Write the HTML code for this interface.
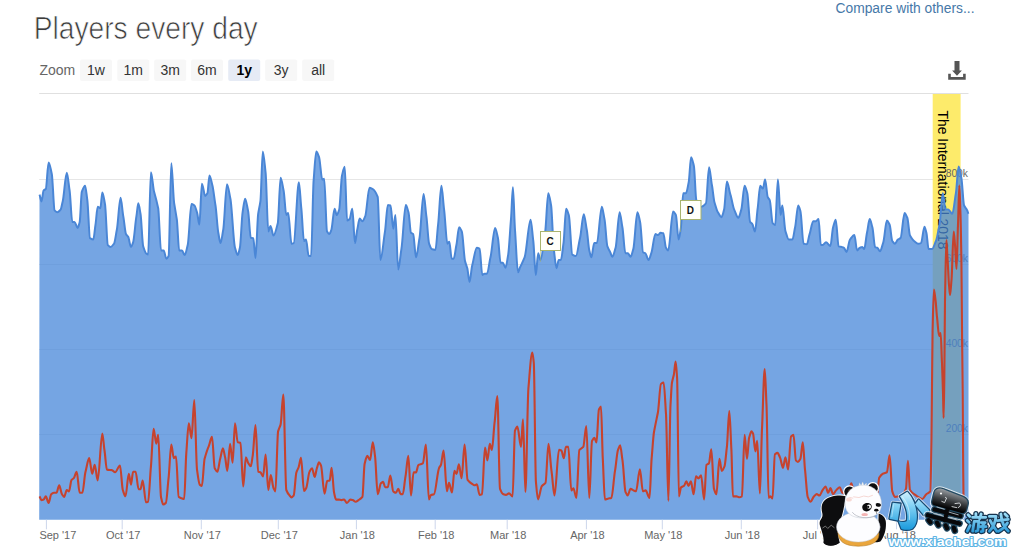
<!DOCTYPE html>
<html><head><meta charset="utf-8"><title>Players every day</title>
<style>
html,body{margin:0;padding:0;background:#fff;}
body{width:1011px;height:550px;overflow:hidden;font-family:"Liberation Sans", sans-serif;}
svg{display:block;}
svg text{font-family:"Liberation Sans", sans-serif;}
</style></head><body>
<svg width="1011" height="550" viewBox="0 0 1011 550">
<rect width="1011" height="550" fill="#fff"/>
<!-- header -->
<text x="33.7" y="38.9" font-size="31" fill="#3d3d3d" stroke="#fff" stroke-width="0.7" paint-order="fill stroke" textLength="224" lengthAdjust="spacingAndGlyphs">Players every day</text>
<text x="835.5" y="12.8" font-size="14" fill="#4678a8" textLength="139" lengthAdjust="spacingAndGlyphs">Compare with others...</text>
<text x="39.5" y="74.5" font-size="14" fill="#666">Zoom</text>
<rect x="80" y="59.5" width="32" height="21.5" rx="2" ry="2" fill="#f7f7f7"/><text x="96" y="75" text-anchor="middle" font-size="14" font-weight="normal" fill="#333">1w</text><rect x="117.3" y="59.5" width="32" height="21.5" rx="2" ry="2" fill="#f7f7f7"/><text x="133.3" y="75" text-anchor="middle" font-size="14" font-weight="normal" fill="#333">1m</text><rect x="154.2" y="59.5" width="32" height="21.5" rx="2" ry="2" fill="#f7f7f7"/><text x="170.2" y="75" text-anchor="middle" font-size="14" font-weight="normal" fill="#333">3m</text><rect x="191" y="59.5" width="32" height="21.5" rx="2" ry="2" fill="#f7f7f7"/><text x="207" y="75" text-anchor="middle" font-size="14" font-weight="normal" fill="#333">6m</text><rect x="228.2" y="59.5" width="32" height="21.5" rx="2" ry="2" fill="#e6ebf5"/><text x="244.2" y="75" text-anchor="middle" font-size="14" font-weight="bold" fill="#000">1y</text><rect x="265.2" y="59.5" width="32" height="21.5" rx="2" ry="2" fill="#f7f7f7"/><text x="281.2" y="75" text-anchor="middle" font-size="14" font-weight="normal" fill="#333">3y</text><rect x="302.2" y="59.5" width="32" height="21.5" rx="2" ry="2" fill="#f7f7f7"/><text x="318.2" y="75" text-anchor="middle" font-size="14" font-weight="normal" fill="#333">all</text>
<!-- download icon -->
<g fill="#555">
<path d="M954.5,61 h5 v9.5 h2.4 L957,75.8 L952.1,70.5 h2.4 Z"/>
<path d="M948.2,73.8 h2.6 v3.3 h12.3 v-3.3 h2.6 v5.9 h-17.5 Z"/>
</g>
<!-- plot -->
<path d="M39.2,93.5 H968.5" stroke="#e0e0e0" stroke-width="1"/>
<path d="M39.2,179.5 H968.5" stroke="#e6e6e6" stroke-width="1"/><path d="M39.2,264.5 H968.5" stroke="#e6e6e6" stroke-width="1"/><path d="M39.2,349.5 H968.5" stroke="#e6e6e6" stroke-width="1"/><path d="M39.2,434.5 H968.5" stroke="#e6e6e6" stroke-width="1"/>
<rect x="932.7" y="94" width="27.9" height="425.79999999999995" fill="#fdeb6b"/>
<text transform="translate(938.1,110.5) rotate(90)" font-size="14.5" fill="#000" textLength="139" lengthAdjust="spacingAndGlyphs">The International 2018</text>
<text x="968" y="176.7" text-anchor="end" font-size="11" fill="#666" textLength="22.3" lengthAdjust="spacingAndGlyphs">800k</text><text x="968" y="261.7" text-anchor="end" font-size="11" fill="#666" textLength="22.3" lengthAdjust="spacingAndGlyphs">600k</text><text x="968" y="346.7" text-anchor="end" font-size="11" fill="#666" textLength="22.3" lengthAdjust="spacingAndGlyphs">400k</text><text x="968" y="431.7" text-anchor="end" font-size="11" fill="#666" textLength="22.3" lengthAdjust="spacingAndGlyphs">200k</text>
<path d="M39.5,194.6 C40.2,196.3 40.8,201.4 41.5,201.4 C42.2,201.4 42.9,191.1 43.6,190.5 C44.3,189.8 45.1,189.7 45.8,189.0 C46.7,188.1 47.7,162.4 48.6,162.4 C49.7,162.4 50.7,169.4 51.8,174.0 C52.7,178.0 53.7,209.5 54.6,210.4 C55.5,211.3 56.4,212.3 57.3,212.3 C58.4,212.3 59.5,210.8 60.6,209.6 C61.3,208.9 62.0,204.0 62.7,201.4 C64.1,196.4 65.4,172.7 66.8,172.7 C67.7,172.7 68.7,184.7 69.6,190.5 C70.5,196.1 71.4,221.9 72.3,221.9 C73.0,221.9 73.8,221.9 74.5,221.9 C75.6,221.9 76.6,227.9 77.7,227.9 C78.4,227.9 79.0,224.4 79.7,221.9 C80.4,219.3 81.1,193.6 81.8,191.8 C82.9,189.0 84.0,185.8 85.1,185.8 C85.8,185.8 86.6,195.2 87.3,200.0 C88.2,205.9 89.1,237.6 90.0,238.2 C91.1,238.9 92.2,239.6 93.3,239.6 C94.0,239.6 94.8,228.7 95.5,224.6 C96.2,220.5 97.0,206.8 97.7,206.8 C98.6,206.8 99.5,208.2 100.4,208.2 C101.0,208.2 101.7,192.4 102.3,192.4 C103.2,192.4 104.1,199.6 105.0,204.1 C105.9,208.8 106.9,244.0 107.8,245.0 C108.7,245.9 109.6,247.0 110.5,247.0 C111.7,247.0 112.8,245.1 114.0,243.7 C114.9,242.6 115.9,234.3 116.8,230.0 C118.1,224.2 119.3,197.8 120.6,197.8 C121.5,197.8 122.4,211.9 123.3,216.4 C124.2,220.9 125.1,232.7 126.0,234.1 C126.7,235.2 127.5,235.9 128.2,236.9 C129.1,238.2 130.1,247.0 131.0,247.0 C131.7,247.0 132.4,244.1 133.1,242.3 C134.2,239.5 135.3,222.4 136.4,216.4 C137.0,212.9 137.7,203.3 138.3,203.3 C139.0,203.3 139.8,210.0 140.5,213.7 C141.4,218.2 142.3,243.7 143.2,246.4 C144.1,249.2 145.1,252.5 146.0,253.2 C146.7,253.7 147.4,254.6 148.1,254.6 C149.0,254.6 150.0,172.2 150.9,172.2 C152.0,172.2 153.0,187.9 154.1,191.8 C155.5,196.8 156.8,201.5 158.2,208.2 C159.1,212.8 160.1,250.5 161.0,250.5 C161.9,250.5 162.8,250.5 163.7,250.5 C164.6,250.5 165.5,258.7 166.4,258.7 C167.1,258.7 167.9,257.3 168.6,256.0 C169.5,254.4 170.4,163.2 171.3,163.2 C172.2,163.2 173.2,196.9 174.1,202.8 C175.0,208.5 175.9,213.5 176.8,219.1 C177.6,224.1 178.4,250.5 179.2,250.5 C180.1,250.5 181.1,250.5 182.0,250.5 C182.9,250.5 183.8,255.1 184.7,255.1 C185.7,255.1 186.7,248.8 187.7,245.0 C189.0,240.2 190.2,204.1 191.5,204.1 C192.5,204.1 193.5,204.9 194.5,205.5 C195.3,206.0 196.2,210.1 197.0,212.3 C197.8,214.4 198.6,224.6 199.4,224.6 C200.2,224.6 201.1,183.7 201.9,183.7 C203.0,183.7 204.1,195.9 205.2,195.9 C205.9,195.9 206.7,194.4 207.4,193.2 C208.1,192.1 208.8,175.5 209.5,175.5 C210.4,175.5 211.4,181.9 212.3,185.0 C213.4,188.5 214.4,199.3 215.5,205.5 C216.4,210.9 217.4,228.4 218.3,232.8 C219.0,236.2 219.8,243.1 220.5,243.1 C221.4,243.1 222.3,234.6 223.2,230.0 C224.5,223.6 225.7,184.2 227.0,184.2 C228.1,184.2 229.3,193.6 230.4,198.7 C231.9,205.6 233.5,243.1 235.0,247.8 C235.9,250.6 236.8,255.1 237.7,255.1 C238.4,255.1 239.2,250.7 239.9,247.8 C240.8,244.3 241.7,217.5 242.6,212.3 C243.4,207.5 244.3,198.7 245.1,198.7 C246.1,198.7 247.1,206.6 248.1,211.0 C249.0,214.9 249.9,237.4 250.8,237.7 C251.6,237.9 252.5,238.0 253.3,238.2 C254.0,238.4 254.8,257.9 255.5,257.9 C256.4,257.9 257.3,219.2 258.2,213.7 C258.9,209.2 259.7,206.2 260.4,201.4 C261.2,196.2 262.0,151.5 262.8,151.5 C263.7,151.5 264.7,164.8 265.6,172.7 C266.5,180.3 267.4,231.4 268.3,231.4 C269.0,231.4 269.8,226.0 270.5,226.0 C271.5,226.0 272.5,235.5 273.5,235.5 C274.9,235.5 276.4,228.7 277.8,223.2 C278.7,219.6 279.7,177.7 280.6,177.7 C281.6,177.7 282.6,186.1 283.6,190.5 C284.5,194.4 285.4,215.0 286.3,215.0 C286.9,215.0 287.6,213.1 288.2,213.1 C289.3,213.1 290.4,243.7 291.5,243.7 C292.2,243.7 293.0,243.4 293.7,243.1 C295.4,242.5 297.2,182.3 298.9,182.3 C299.7,182.3 300.5,201.4 301.3,208.2 C302.2,215.9 303.1,241.0 304.0,241.0 C304.7,241.0 305.3,239.6 306.0,239.6 C306.9,239.6 307.8,256.0 308.7,256.0 C309.5,256.0 310.3,256.0 311.1,256.0 C311.9,256.0 312.8,191.0 313.6,180.9 C314.5,170.0 315.4,151.5 316.3,151.5 C317.2,151.5 318.1,154.8 319.0,156.9 C320.1,159.4 321.2,179.6 322.3,179.6 C322.9,179.6 323.6,178.7 324.2,178.7 C325.1,178.7 326.1,229.9 327.0,231.4 C327.8,232.6 328.6,234.1 329.4,234.1 C330.0,234.1 330.7,231.5 331.3,230.0 C332.4,227.4 333.5,208.8 334.6,208.8 C335.3,208.8 336.1,215.0 336.8,215.0 C337.6,215.0 338.4,211.8 339.2,209.6 C340.1,207.0 341.1,179.1 342.0,175.5 C342.9,172.0 343.8,166.7 344.7,166.7 C345.5,166.7 346.3,220.5 347.1,220.5 C347.9,220.5 348.8,219.7 349.6,219.1 C350.5,218.4 351.4,208.8 352.3,208.8 C353.2,208.8 354.1,243.1 355.0,243.1 C355.7,243.1 356.5,232.8 357.2,230.0 C358.0,226.8 358.9,218.6 359.7,218.6 C360.6,218.6 361.5,221.3 362.4,221.3 C363.3,221.3 364.3,218.3 365.2,216.4 C366.6,213.5 368.1,187.7 369.5,187.7 C370.6,187.7 371.7,188.6 372.8,189.1 C374.4,189.9 376.1,192.9 377.7,196.8 C378.6,199.0 379.5,260.0 380.4,260.0 C381.9,260.0 383.5,240.2 385.0,231.4 C385.9,226.1 386.9,204.9 387.8,204.9 C388.7,204.9 389.6,205.2 390.5,205.5 C391.4,205.8 392.4,228.7 393.3,228.7 C394.0,228.7 394.7,215.0 395.4,215.0 C396.3,215.0 397.3,269.6 398.2,269.6 C399.3,269.6 400.3,255.3 401.4,249.1 C402.9,240.6 404.3,204.9 405.8,204.9 C406.7,204.9 407.6,209.5 408.5,212.3 C409.3,214.9 410.2,232.1 411.0,232.8 C411.7,233.4 412.5,233.5 413.2,234.1 C414.1,234.8 415.1,257.3 416.0,257.3 C417.2,257.3 418.3,244.5 419.5,238.2 C420.9,230.8 422.2,194.0 423.6,194.0 C424.5,194.0 425.5,210.1 426.4,216.4 C427.3,222.4 428.2,241.4 429.1,243.7 C430.0,246.0 430.9,248.8 431.8,249.1 C433.0,249.5 434.2,250.0 435.4,250.0 C436.3,250.0 437.2,231.6 438.1,224.6 C439.2,216.0 440.3,185.8 441.4,185.8 C442.3,185.8 443.2,203.2 444.1,209.6 C445.2,217.4 446.3,243.7 447.4,243.7 C448.0,243.7 448.7,241.8 449.3,241.8 C450.1,241.8 450.9,258.7 451.7,258.7 C452.4,258.7 453.0,258.7 453.7,258.7 C454.6,258.7 455.5,248.9 456.4,245.0 C457.3,241.1 458.2,227.3 459.1,227.3 C460.0,227.3 460.9,229.7 461.8,231.4 C462.9,233.5 464.0,257.7 465.1,261.4 C465.8,263.9 466.6,265.9 467.3,268.2 C468.0,270.5 468.8,281.9 469.5,281.9 C470.4,281.9 471.3,268.7 472.2,265.5 C473.7,260.0 475.3,247.8 476.8,247.8 C477.7,247.8 478.7,248.2 479.6,248.6 C480.5,249.0 481.4,275.0 482.3,275.0 C483.0,275.0 483.8,273.7 484.5,273.7 C485.3,273.7 486.2,273.7 487.0,273.7 C488.2,273.7 489.3,262.0 490.5,257.3 C492.0,251.1 493.6,227.9 495.1,227.9 C496.0,227.9 497.0,234.1 497.9,237.7 C498.8,241.1 499.7,262.8 500.6,262.8 C501.3,262.8 502.1,262.8 502.8,262.8 C503.7,262.8 504.6,267.7 505.5,267.7 C506.4,267.7 507.3,259.3 508.2,254.6 C509.1,249.7 510.1,229.3 511.0,219.1 C511.6,212.2 512.3,187.2 512.9,187.2 C513.6,187.2 514.3,221.2 515.0,230.0 C516.0,242.6 517.0,272.3 518.0,272.3 C518.7,272.3 519.5,268.2 520.2,266.9 C521.7,264.3 523.1,260.8 524.6,257.3 C526.6,252.6 528.6,219.7 530.6,219.7 C531.5,219.7 532.4,234.2 533.3,241.0 C534.1,247.3 535.0,275.0 535.8,275.0 C536.6,275.0 537.4,253.2 538.2,253.2 C538.9,253.2 539.7,260.0 540.4,260.0 C542.0,260.0 543.5,242.3 545.1,232.8 C546.2,226.3 547.2,193.2 548.3,193.2 C549.2,193.2 550.2,200.6 551.1,205.5 C552.0,210.2 552.9,242.5 553.8,249.1 C554.7,255.7 555.6,268.2 556.5,268.2 C557.2,268.2 558.0,260.0 558.7,260.0 C559.4,260.0 560.2,260.0 560.9,260.0 C561.8,260.0 562.7,248.3 563.6,242.3 C564.4,236.8 565.3,208.8 566.1,208.8 C567.0,208.8 567.9,212.5 568.8,215.0 C570.0,218.2 571.1,253.9 572.3,254.6 C573.5,255.3 574.7,256.0 575.9,256.0 C577.3,256.0 578.6,243.5 580.0,238.2 C581.3,233.3 582.5,214.2 583.8,214.2 C584.8,214.2 585.8,225.2 586.8,230.0 C587.6,234.0 588.5,247.6 589.3,250.5 C590.0,252.9 590.7,257.3 591.4,257.3 C592.3,257.3 593.3,243.1 594.2,243.1 C595.1,243.1 596.0,243.1 596.9,243.1 C598.5,243.1 600.2,206.8 601.8,206.8 C602.7,206.8 603.6,215.0 604.5,219.1 C605.5,223.5 606.4,244.0 607.4,246.4 C608.3,248.6 609.2,250.5 610.1,251.9 C610.8,253.1 611.6,256.8 612.3,256.8 C613.4,256.8 614.5,251.2 615.6,247.8 C616.9,243.7 618.3,212.3 619.6,212.3 C620.5,212.3 621.5,222.7 622.4,227.3 C623.4,232.2 624.4,253.2 625.4,253.2 C626.2,253.2 627.0,253.2 627.8,253.2 C628.7,253.2 629.7,256.8 630.6,256.8 C631.5,256.8 632.4,251.9 633.3,249.1 C634.7,244.8 636.0,212.3 637.4,212.3 C638.3,212.3 639.2,218.4 640.1,221.9 C641.1,225.8 642.1,251.9 643.1,252.4 C643.8,252.8 644.6,252.9 645.3,253.2 C646.4,253.7 647.5,260.0 648.6,260.0 C649.5,260.0 650.4,255.4 651.3,253.2 C652.7,249.9 654.0,234.1 655.4,234.1 C656.3,234.1 657.2,235.0 658.1,235.0 C658.9,235.0 659.8,232.8 660.6,232.8 C661.5,232.8 662.4,233.1 663.3,233.3 C664.2,233.5 665.1,246.5 666.0,247.8 C666.7,248.9 667.5,250.5 668.2,250.5 C669.8,250.5 671.5,211.5 673.1,211.5 C674.0,211.5 675.0,213.5 675.9,215.0 C676.8,216.5 677.7,239.6 678.6,239.6 C679.3,239.6 680.1,232.8 680.8,228.7 C681.6,224.3 682.4,193.2 683.2,193.2 C684.1,193.2 685.1,193.2 686.0,193.2 C686.9,193.2 687.8,186.3 688.7,182.3 C689.5,178.8 690.3,157.2 691.1,157.2 C692.0,157.2 693.0,162.3 693.9,165.9 C694.7,169.0 695.5,198.3 696.3,200.0 C697.9,203.4 699.4,206.8 701.0,206.8 C702.6,206.8 704.3,205.1 705.9,203.3 C707.0,202.2 708.0,167.3 709.1,167.3 C710.0,167.3 711.0,180.5 711.9,185.0 C712.8,189.4 713.7,200.1 714.6,202.8 C715.7,206.2 716.8,210.7 717.9,212.3 C719.1,214.0 720.2,217.2 721.4,217.2 C722.3,217.2 723.2,212.6 724.1,209.6 C725.0,206.5 726.0,181.5 726.9,181.5 C728.1,181.5 729.2,191.2 730.4,194.6 C731.7,198.2 732.9,207.1 734.2,209.6 C735.6,212.3 736.9,217.8 738.3,217.8 C739.3,217.8 740.3,212.6 741.3,209.6 C742.4,206.4 743.5,185.8 744.6,185.8 C745.5,185.8 746.4,190.3 747.3,193.2 C748.2,196.2 749.2,220.7 750.1,221.9 C750.8,222.8 751.6,223.2 752.3,224.0 C753.2,224.9 754.1,231.4 755.0,231.4 C755.9,231.4 756.8,214.1 757.7,208.2 C758.5,202.7 759.4,185.8 760.2,185.8 C761.1,185.8 762.0,188.6 762.9,188.6 C763.6,188.6 764.4,179.6 765.1,179.6 C766.0,179.6 766.9,195.8 767.8,197.3 C768.4,198.4 769.1,198.9 769.7,200.0 C770.7,201.7 771.7,222.2 772.7,223.2 C773.5,224.0 774.4,225.1 775.2,225.1 C776.1,225.1 777.0,179.6 777.9,179.6 C778.8,179.6 779.7,215.0 780.6,215.0 C781.2,215.0 781.7,205.5 782.3,205.5 C783.4,205.5 784.4,228.3 785.5,231.4 C786.6,234.5 787.7,239.6 788.8,239.6 C790.0,239.6 791.2,239.6 792.4,239.6 C793.3,239.6 794.2,231.0 795.1,227.3 C796.1,223.0 797.2,205.5 798.2,205.5 C798.9,205.5 799.7,208.9 800.4,211.0 C801.5,214.1 802.5,243.5 803.6,243.7 C804.7,243.9 805.8,244.2 806.9,244.2 C807.8,244.2 808.7,236.6 809.6,234.1 C810.8,230.8 812.0,221.3 813.2,221.3 C814.1,221.3 815.0,221.3 815.9,221.3 C816.8,221.3 817.7,219.1 818.6,219.1 C819.3,219.1 820.1,245.0 820.8,245.0 C821.4,245.0 822.1,245.0 822.7,245.0 C823.8,245.0 824.9,242.3 826.0,242.3 C827.5,242.3 828.9,245.9 830.4,245.9 C831.3,245.9 832.2,230.0 833.1,227.3 C834.0,224.6 834.9,219.7 835.8,219.7 C836.7,219.7 837.7,246.1 838.6,246.4 C839.7,246.7 840.7,246.8 841.8,247.0 C842.5,247.1 843.3,247.5 844.0,247.8 C844.8,248.2 845.7,251.9 846.5,251.9 C847.7,251.9 848.8,241.0 850.0,239.6 C851.5,237.8 852.9,235.0 854.4,235.0 C855.3,235.0 856.2,250.5 857.1,250.5 C858.0,250.5 858.9,248.1 859.8,247.8 C860.6,247.5 861.5,247.0 862.3,247.0 C862.9,247.0 863.6,249.1 864.2,249.1 C865.1,249.1 866.1,236.6 867.0,232.8 C867.9,229.1 868.8,219.1 869.7,219.1 C870.6,219.1 871.5,224.4 872.4,227.3 C873.3,230.2 874.2,246.9 875.1,247.2 C875.8,247.5 876.6,247.6 877.3,247.8 C878.2,248.1 879.1,251.3 880.0,251.3 C881.1,251.3 882.2,245.4 883.3,242.3 C884.5,238.9 885.7,220.5 886.9,220.5 C887.8,220.5 888.7,223.0 889.6,224.6 C890.5,226.2 891.4,239.8 892.3,241.0 C893.2,242.2 894.1,243.7 895.0,243.7 C895.9,243.7 896.9,240.1 897.8,239.6 C898.7,239.1 899.6,238.8 900.5,238.2 C901.9,237.3 903.2,213.1 904.6,213.1 C905.5,213.1 906.4,215.9 907.3,217.8 C908.2,219.7 909.1,233.9 910.0,235.5 C911.4,237.9 912.7,240.1 914.1,241.0 C915.5,241.9 916.8,243.7 918.2,243.7 C919.1,243.7 920.1,243.4 921.0,243.1 C922.2,242.8 923.3,226.8 924.5,226.8 C925.1,226.8 925.8,230.7 926.4,232.8 C927.1,235.2 927.9,249.1 928.6,249.1 C929.7,249.1 930.8,249.1 931.9,249.1 C933.3,249.1 934.6,243.9 936.0,241.0 C937.2,238.5 938.3,230.1 939.5,224.6 C940.6,219.4 941.7,193.2 942.8,193.2 C943.7,193.2 944.6,209.6 945.5,209.6 C946.4,209.6 947.3,209.6 948.2,209.6 C949.6,209.6 950.9,213.7 952.3,213.7 C953.5,213.7 954.7,199.8 955.9,193.2 C956.8,188.3 957.7,166.5 958.6,166.5 C959.5,166.5 960.5,174.1 961.4,178.2 C962.3,182.2 963.2,203.7 964.1,205.5 C965.0,207.3 965.9,208.3 966.8,209.6 C967.4,210.4 967.9,212.7 968.5,213.7 L968.5,519.8 L39.2,519.8 Z" fill="#4787da" fill-opacity="0.75"/>
<path d="M39.5,194.6 C40.2,196.3 40.8,201.4 41.5,201.4 C42.2,201.4 42.9,191.1 43.6,190.5 C44.3,189.8 45.1,189.7 45.8,189.0 C46.7,188.1 47.7,162.4 48.6,162.4 C49.7,162.4 50.7,169.4 51.8,174.0 C52.7,178.0 53.7,209.5 54.6,210.4 C55.5,211.3 56.4,212.3 57.3,212.3 C58.4,212.3 59.5,210.8 60.6,209.6 C61.3,208.9 62.0,204.0 62.7,201.4 C64.1,196.4 65.4,172.7 66.8,172.7 C67.7,172.7 68.7,184.7 69.6,190.5 C70.5,196.1 71.4,221.9 72.3,221.9 C73.0,221.9 73.8,221.9 74.5,221.9 C75.6,221.9 76.6,227.9 77.7,227.9 C78.4,227.9 79.0,224.4 79.7,221.9 C80.4,219.3 81.1,193.6 81.8,191.8 C82.9,189.0 84.0,185.8 85.1,185.8 C85.8,185.8 86.6,195.2 87.3,200.0 C88.2,205.9 89.1,237.6 90.0,238.2 C91.1,238.9 92.2,239.6 93.3,239.6 C94.0,239.6 94.8,228.7 95.5,224.6 C96.2,220.5 97.0,206.8 97.7,206.8 C98.6,206.8 99.5,208.2 100.4,208.2 C101.0,208.2 101.7,192.4 102.3,192.4 C103.2,192.4 104.1,199.6 105.0,204.1 C105.9,208.8 106.9,244.0 107.8,245.0 C108.7,245.9 109.6,247.0 110.5,247.0 C111.7,247.0 112.8,245.1 114.0,243.7 C114.9,242.6 115.9,234.3 116.8,230.0 C118.1,224.2 119.3,197.8 120.6,197.8 C121.5,197.8 122.4,211.9 123.3,216.4 C124.2,220.9 125.1,232.7 126.0,234.1 C126.7,235.2 127.5,235.9 128.2,236.9 C129.1,238.2 130.1,247.0 131.0,247.0 C131.7,247.0 132.4,244.1 133.1,242.3 C134.2,239.5 135.3,222.4 136.4,216.4 C137.0,212.9 137.7,203.3 138.3,203.3 C139.0,203.3 139.8,210.0 140.5,213.7 C141.4,218.2 142.3,243.7 143.2,246.4 C144.1,249.2 145.1,252.5 146.0,253.2 C146.7,253.7 147.4,254.6 148.1,254.6 C149.0,254.6 150.0,172.2 150.9,172.2 C152.0,172.2 153.0,187.9 154.1,191.8 C155.5,196.8 156.8,201.5 158.2,208.2 C159.1,212.8 160.1,250.5 161.0,250.5 C161.9,250.5 162.8,250.5 163.7,250.5 C164.6,250.5 165.5,258.7 166.4,258.7 C167.1,258.7 167.9,257.3 168.6,256.0 C169.5,254.4 170.4,163.2 171.3,163.2 C172.2,163.2 173.2,196.9 174.1,202.8 C175.0,208.5 175.9,213.5 176.8,219.1 C177.6,224.1 178.4,250.5 179.2,250.5 C180.1,250.5 181.1,250.5 182.0,250.5 C182.9,250.5 183.8,255.1 184.7,255.1 C185.7,255.1 186.7,248.8 187.7,245.0 C189.0,240.2 190.2,204.1 191.5,204.1 C192.5,204.1 193.5,204.9 194.5,205.5 C195.3,206.0 196.2,210.1 197.0,212.3 C197.8,214.4 198.6,224.6 199.4,224.6 C200.2,224.6 201.1,183.7 201.9,183.7 C203.0,183.7 204.1,195.9 205.2,195.9 C205.9,195.9 206.7,194.4 207.4,193.2 C208.1,192.1 208.8,175.5 209.5,175.5 C210.4,175.5 211.4,181.9 212.3,185.0 C213.4,188.5 214.4,199.3 215.5,205.5 C216.4,210.9 217.4,228.4 218.3,232.8 C219.0,236.2 219.8,243.1 220.5,243.1 C221.4,243.1 222.3,234.6 223.2,230.0 C224.5,223.6 225.7,184.2 227.0,184.2 C228.1,184.2 229.3,193.6 230.4,198.7 C231.9,205.6 233.5,243.1 235.0,247.8 C235.9,250.6 236.8,255.1 237.7,255.1 C238.4,255.1 239.2,250.7 239.9,247.8 C240.8,244.3 241.7,217.5 242.6,212.3 C243.4,207.5 244.3,198.7 245.1,198.7 C246.1,198.7 247.1,206.6 248.1,211.0 C249.0,214.9 249.9,237.4 250.8,237.7 C251.6,237.9 252.5,238.0 253.3,238.2 C254.0,238.4 254.8,257.9 255.5,257.9 C256.4,257.9 257.3,219.2 258.2,213.7 C258.9,209.2 259.7,206.2 260.4,201.4 C261.2,196.2 262.0,151.5 262.8,151.5 C263.7,151.5 264.7,164.8 265.6,172.7 C266.5,180.3 267.4,231.4 268.3,231.4 C269.0,231.4 269.8,226.0 270.5,226.0 C271.5,226.0 272.5,235.5 273.5,235.5 C274.9,235.5 276.4,228.7 277.8,223.2 C278.7,219.6 279.7,177.7 280.6,177.7 C281.6,177.7 282.6,186.1 283.6,190.5 C284.5,194.4 285.4,215.0 286.3,215.0 C286.9,215.0 287.6,213.1 288.2,213.1 C289.3,213.1 290.4,243.7 291.5,243.7 C292.2,243.7 293.0,243.4 293.7,243.1 C295.4,242.5 297.2,182.3 298.9,182.3 C299.7,182.3 300.5,201.4 301.3,208.2 C302.2,215.9 303.1,241.0 304.0,241.0 C304.7,241.0 305.3,239.6 306.0,239.6 C306.9,239.6 307.8,256.0 308.7,256.0 C309.5,256.0 310.3,256.0 311.1,256.0 C311.9,256.0 312.8,191.0 313.6,180.9 C314.5,170.0 315.4,151.5 316.3,151.5 C317.2,151.5 318.1,154.8 319.0,156.9 C320.1,159.4 321.2,179.6 322.3,179.6 C322.9,179.6 323.6,178.7 324.2,178.7 C325.1,178.7 326.1,229.9 327.0,231.4 C327.8,232.6 328.6,234.1 329.4,234.1 C330.0,234.1 330.7,231.5 331.3,230.0 C332.4,227.4 333.5,208.8 334.6,208.8 C335.3,208.8 336.1,215.0 336.8,215.0 C337.6,215.0 338.4,211.8 339.2,209.6 C340.1,207.0 341.1,179.1 342.0,175.5 C342.9,172.0 343.8,166.7 344.7,166.7 C345.5,166.7 346.3,220.5 347.1,220.5 C347.9,220.5 348.8,219.7 349.6,219.1 C350.5,218.4 351.4,208.8 352.3,208.8 C353.2,208.8 354.1,243.1 355.0,243.1 C355.7,243.1 356.5,232.8 357.2,230.0 C358.0,226.8 358.9,218.6 359.7,218.6 C360.6,218.6 361.5,221.3 362.4,221.3 C363.3,221.3 364.3,218.3 365.2,216.4 C366.6,213.5 368.1,187.7 369.5,187.7 C370.6,187.7 371.7,188.6 372.8,189.1 C374.4,189.9 376.1,192.9 377.7,196.8 C378.6,199.0 379.5,260.0 380.4,260.0 C381.9,260.0 383.5,240.2 385.0,231.4 C385.9,226.1 386.9,204.9 387.8,204.9 C388.7,204.9 389.6,205.2 390.5,205.5 C391.4,205.8 392.4,228.7 393.3,228.7 C394.0,228.7 394.7,215.0 395.4,215.0 C396.3,215.0 397.3,269.6 398.2,269.6 C399.3,269.6 400.3,255.3 401.4,249.1 C402.9,240.6 404.3,204.9 405.8,204.9 C406.7,204.9 407.6,209.5 408.5,212.3 C409.3,214.9 410.2,232.1 411.0,232.8 C411.7,233.4 412.5,233.5 413.2,234.1 C414.1,234.8 415.1,257.3 416.0,257.3 C417.2,257.3 418.3,244.5 419.5,238.2 C420.9,230.8 422.2,194.0 423.6,194.0 C424.5,194.0 425.5,210.1 426.4,216.4 C427.3,222.4 428.2,241.4 429.1,243.7 C430.0,246.0 430.9,248.8 431.8,249.1 C433.0,249.5 434.2,250.0 435.4,250.0 C436.3,250.0 437.2,231.6 438.1,224.6 C439.2,216.0 440.3,185.8 441.4,185.8 C442.3,185.8 443.2,203.2 444.1,209.6 C445.2,217.4 446.3,243.7 447.4,243.7 C448.0,243.7 448.7,241.8 449.3,241.8 C450.1,241.8 450.9,258.7 451.7,258.7 C452.4,258.7 453.0,258.7 453.7,258.7 C454.6,258.7 455.5,248.9 456.4,245.0 C457.3,241.1 458.2,227.3 459.1,227.3 C460.0,227.3 460.9,229.7 461.8,231.4 C462.9,233.5 464.0,257.7 465.1,261.4 C465.8,263.9 466.6,265.9 467.3,268.2 C468.0,270.5 468.8,281.9 469.5,281.9 C470.4,281.9 471.3,268.7 472.2,265.5 C473.7,260.0 475.3,247.8 476.8,247.8 C477.7,247.8 478.7,248.2 479.6,248.6 C480.5,249.0 481.4,275.0 482.3,275.0 C483.0,275.0 483.8,273.7 484.5,273.7 C485.3,273.7 486.2,273.7 487.0,273.7 C488.2,273.7 489.3,262.0 490.5,257.3 C492.0,251.1 493.6,227.9 495.1,227.9 C496.0,227.9 497.0,234.1 497.9,237.7 C498.8,241.1 499.7,262.8 500.6,262.8 C501.3,262.8 502.1,262.8 502.8,262.8 C503.7,262.8 504.6,267.7 505.5,267.7 C506.4,267.7 507.3,259.3 508.2,254.6 C509.1,249.7 510.1,229.3 511.0,219.1 C511.6,212.2 512.3,187.2 512.9,187.2 C513.6,187.2 514.3,221.2 515.0,230.0 C516.0,242.6 517.0,272.3 518.0,272.3 C518.7,272.3 519.5,268.2 520.2,266.9 C521.7,264.3 523.1,260.8 524.6,257.3 C526.6,252.6 528.6,219.7 530.6,219.7 C531.5,219.7 532.4,234.2 533.3,241.0 C534.1,247.3 535.0,275.0 535.8,275.0 C536.6,275.0 537.4,253.2 538.2,253.2 C538.9,253.2 539.7,260.0 540.4,260.0 C542.0,260.0 543.5,242.3 545.1,232.8 C546.2,226.3 547.2,193.2 548.3,193.2 C549.2,193.2 550.2,200.6 551.1,205.5 C552.0,210.2 552.9,242.5 553.8,249.1 C554.7,255.7 555.6,268.2 556.5,268.2 C557.2,268.2 558.0,260.0 558.7,260.0 C559.4,260.0 560.2,260.0 560.9,260.0 C561.8,260.0 562.7,248.3 563.6,242.3 C564.4,236.8 565.3,208.8 566.1,208.8 C567.0,208.8 567.9,212.5 568.8,215.0 C570.0,218.2 571.1,253.9 572.3,254.6 C573.5,255.3 574.7,256.0 575.9,256.0 C577.3,256.0 578.6,243.5 580.0,238.2 C581.3,233.3 582.5,214.2 583.8,214.2 C584.8,214.2 585.8,225.2 586.8,230.0 C587.6,234.0 588.5,247.6 589.3,250.5 C590.0,252.9 590.7,257.3 591.4,257.3 C592.3,257.3 593.3,243.1 594.2,243.1 C595.1,243.1 596.0,243.1 596.9,243.1 C598.5,243.1 600.2,206.8 601.8,206.8 C602.7,206.8 603.6,215.0 604.5,219.1 C605.5,223.5 606.4,244.0 607.4,246.4 C608.3,248.6 609.2,250.5 610.1,251.9 C610.8,253.1 611.6,256.8 612.3,256.8 C613.4,256.8 614.5,251.2 615.6,247.8 C616.9,243.7 618.3,212.3 619.6,212.3 C620.5,212.3 621.5,222.7 622.4,227.3 C623.4,232.2 624.4,253.2 625.4,253.2 C626.2,253.2 627.0,253.2 627.8,253.2 C628.7,253.2 629.7,256.8 630.6,256.8 C631.5,256.8 632.4,251.9 633.3,249.1 C634.7,244.8 636.0,212.3 637.4,212.3 C638.3,212.3 639.2,218.4 640.1,221.9 C641.1,225.8 642.1,251.9 643.1,252.4 C643.8,252.8 644.6,252.9 645.3,253.2 C646.4,253.7 647.5,260.0 648.6,260.0 C649.5,260.0 650.4,255.4 651.3,253.2 C652.7,249.9 654.0,234.1 655.4,234.1 C656.3,234.1 657.2,235.0 658.1,235.0 C658.9,235.0 659.8,232.8 660.6,232.8 C661.5,232.8 662.4,233.1 663.3,233.3 C664.2,233.5 665.1,246.5 666.0,247.8 C666.7,248.9 667.5,250.5 668.2,250.5 C669.8,250.5 671.5,211.5 673.1,211.5 C674.0,211.5 675.0,213.5 675.9,215.0 C676.8,216.5 677.7,239.6 678.6,239.6 C679.3,239.6 680.1,232.8 680.8,228.7 C681.6,224.3 682.4,193.2 683.2,193.2 C684.1,193.2 685.1,193.2 686.0,193.2 C686.9,193.2 687.8,186.3 688.7,182.3 C689.5,178.8 690.3,157.2 691.1,157.2 C692.0,157.2 693.0,162.3 693.9,165.9 C694.7,169.0 695.5,198.3 696.3,200.0 C697.9,203.4 699.4,206.8 701.0,206.8 C702.6,206.8 704.3,205.1 705.9,203.3 C707.0,202.2 708.0,167.3 709.1,167.3 C710.0,167.3 711.0,180.5 711.9,185.0 C712.8,189.4 713.7,200.1 714.6,202.8 C715.7,206.2 716.8,210.7 717.9,212.3 C719.1,214.0 720.2,217.2 721.4,217.2 C722.3,217.2 723.2,212.6 724.1,209.6 C725.0,206.5 726.0,181.5 726.9,181.5 C728.1,181.5 729.2,191.2 730.4,194.6 C731.7,198.2 732.9,207.1 734.2,209.6 C735.6,212.3 736.9,217.8 738.3,217.8 C739.3,217.8 740.3,212.6 741.3,209.6 C742.4,206.4 743.5,185.8 744.6,185.8 C745.5,185.8 746.4,190.3 747.3,193.2 C748.2,196.2 749.2,220.7 750.1,221.9 C750.8,222.8 751.6,223.2 752.3,224.0 C753.2,224.9 754.1,231.4 755.0,231.4 C755.9,231.4 756.8,214.1 757.7,208.2 C758.5,202.7 759.4,185.8 760.2,185.8 C761.1,185.8 762.0,188.6 762.9,188.6 C763.6,188.6 764.4,179.6 765.1,179.6 C766.0,179.6 766.9,195.8 767.8,197.3 C768.4,198.4 769.1,198.9 769.7,200.0 C770.7,201.7 771.7,222.2 772.7,223.2 C773.5,224.0 774.4,225.1 775.2,225.1 C776.1,225.1 777.0,179.6 777.9,179.6 C778.8,179.6 779.7,215.0 780.6,215.0 C781.2,215.0 781.7,205.5 782.3,205.5 C783.4,205.5 784.4,228.3 785.5,231.4 C786.6,234.5 787.7,239.6 788.8,239.6 C790.0,239.6 791.2,239.6 792.4,239.6 C793.3,239.6 794.2,231.0 795.1,227.3 C796.1,223.0 797.2,205.5 798.2,205.5 C798.9,205.5 799.7,208.9 800.4,211.0 C801.5,214.1 802.5,243.5 803.6,243.7 C804.7,243.9 805.8,244.2 806.9,244.2 C807.8,244.2 808.7,236.6 809.6,234.1 C810.8,230.8 812.0,221.3 813.2,221.3 C814.1,221.3 815.0,221.3 815.9,221.3 C816.8,221.3 817.7,219.1 818.6,219.1 C819.3,219.1 820.1,245.0 820.8,245.0 C821.4,245.0 822.1,245.0 822.7,245.0 C823.8,245.0 824.9,242.3 826.0,242.3 C827.5,242.3 828.9,245.9 830.4,245.9 C831.3,245.9 832.2,230.0 833.1,227.3 C834.0,224.6 834.9,219.7 835.8,219.7 C836.7,219.7 837.7,246.1 838.6,246.4 C839.7,246.7 840.7,246.8 841.8,247.0 C842.5,247.1 843.3,247.5 844.0,247.8 C844.8,248.2 845.7,251.9 846.5,251.9 C847.7,251.9 848.8,241.0 850.0,239.6 C851.5,237.8 852.9,235.0 854.4,235.0 C855.3,235.0 856.2,250.5 857.1,250.5 C858.0,250.5 858.9,248.1 859.8,247.8 C860.6,247.5 861.5,247.0 862.3,247.0 C862.9,247.0 863.6,249.1 864.2,249.1 C865.1,249.1 866.1,236.6 867.0,232.8 C867.9,229.1 868.8,219.1 869.7,219.1 C870.6,219.1 871.5,224.4 872.4,227.3 C873.3,230.2 874.2,246.9 875.1,247.2 C875.8,247.5 876.6,247.6 877.3,247.8 C878.2,248.1 879.1,251.3 880.0,251.3 C881.1,251.3 882.2,245.4 883.3,242.3 C884.5,238.9 885.7,220.5 886.9,220.5 C887.8,220.5 888.7,223.0 889.6,224.6 C890.5,226.2 891.4,239.8 892.3,241.0 C893.2,242.2 894.1,243.7 895.0,243.7 C895.9,243.7 896.9,240.1 897.8,239.6 C898.7,239.1 899.6,238.8 900.5,238.2 C901.9,237.3 903.2,213.1 904.6,213.1 C905.5,213.1 906.4,215.9 907.3,217.8 C908.2,219.7 909.1,233.9 910.0,235.5 C911.4,237.9 912.7,240.1 914.1,241.0 C915.5,241.9 916.8,243.7 918.2,243.7 C919.1,243.7 920.1,243.4 921.0,243.1 C922.2,242.8 923.3,226.8 924.5,226.8 C925.1,226.8 925.8,230.7 926.4,232.8 C927.1,235.2 927.9,249.1 928.6,249.1 C929.7,249.1 930.8,249.1 931.9,249.1 C933.3,249.1 934.6,243.9 936.0,241.0 C937.2,238.5 938.3,230.1 939.5,224.6 C940.6,219.4 941.7,193.2 942.8,193.2 C943.7,193.2 944.6,209.6 945.5,209.6 C946.4,209.6 947.3,209.6 948.2,209.6 C949.6,209.6 950.9,213.7 952.3,213.7 C953.5,213.7 954.7,199.8 955.9,193.2 C956.8,188.3 957.7,166.5 958.6,166.5 C959.5,166.5 960.5,174.1 961.4,178.2 C962.3,182.2 963.2,203.7 964.1,205.5 C965.0,207.3 965.9,208.3 966.8,209.6 C967.4,210.4 967.9,212.7 968.5,213.7" fill="none" stroke="#4a86d6" stroke-width="2" stroke-linejoin="round" stroke-linecap="butt"/>
<path d="M39.5,496.3 C40.2,497.2 40.8,500.1 41.5,500.1 C42.2,500.1 42.9,499.8 43.6,499.6 C44.3,499.4 45.1,496.3 45.8,496.3 C46.7,496.3 47.7,502.9 48.6,502.9 C49.5,502.9 50.4,494.7 51.3,494.1 C52.2,493.5 53.1,492.8 54.0,492.8 C54.8,492.8 55.7,492.8 56.5,492.8 C57.4,492.8 58.3,485.4 59.2,485.4 C60.1,485.4 61.0,492.9 61.9,494.1 C62.6,495.1 63.4,496.9 64.1,496.9 C65.0,496.9 65.9,490.0 66.8,490.0 C67.5,490.0 68.3,491.4 69.0,491.4 C69.8,491.4 70.7,480.8 71.5,480.0 C72.2,479.3 73.0,478.9 73.7,478.3 C74.7,477.5 75.7,471.8 76.7,471.8 C77.7,471.8 78.7,492.8 79.7,492.8 C80.6,492.8 81.5,492.8 82.4,492.8 C83.4,492.8 84.4,476.0 85.4,472.3 C86.7,467.7 87.9,458.1 89.2,458.1 C90.2,458.1 91.2,473.7 92.2,473.7 C93.0,473.7 93.9,464.7 94.7,464.7 C95.7,464.7 96.7,480.5 97.7,480.5 C99.2,480.5 100.8,433.6 102.3,433.6 C103.0,433.6 103.8,446.2 104.5,450.5 C105.3,455.2 106.1,469.5 106.9,469.6 C108.6,469.9 110.2,469.9 111.9,470.1 C113.0,470.2 114.0,472.3 115.1,472.3 C116.7,472.3 118.4,465.5 120.0,465.5 C120.9,465.5 121.9,487.4 122.8,490.0 C123.7,492.5 124.6,496.3 125.5,496.3 C126.6,496.3 127.7,473.7 128.8,473.7 C129.5,473.7 130.3,484.6 131.0,484.6 C131.7,484.6 132.4,471.8 133.1,471.8 C133.9,471.8 134.8,471.8 135.6,471.8 C136.6,471.8 137.6,489.2 138.6,489.2 C139.2,489.2 139.9,489.2 140.5,489.2 C141.2,489.2 142.0,480.5 142.7,480.5 C143.8,480.5 144.9,502.3 146.0,502.3 C146.7,502.3 147.4,502.0 148.1,501.8 C149.0,501.5 150.0,476.2 150.9,466.9 C151.8,458.0 152.7,428.7 153.6,428.7 C154.5,428.7 155.4,443.7 156.3,443.7 C156.9,443.7 157.6,434.7 158.2,434.7 C159.1,434.7 160.1,492.8 161.0,496.9 C161.7,500.1 162.5,504.5 163.2,504.5 C164.1,504.5 165.0,503.7 165.9,502.9 C166.8,502.1 167.7,485.0 168.6,477.8 C169.5,470.6 170.4,444.5 171.3,444.5 C172.1,444.5 173.0,458.1 173.8,458.1 C174.5,458.1 175.3,456.5 176.0,456.5 C176.9,456.5 177.8,496.3 178.7,496.9 C179.6,497.5 180.5,498.0 181.4,498.2 C182.3,498.5 183.3,499.0 184.2,499.0 C184.9,499.0 185.6,461.4 186.3,453.2 C187.1,443.4 188.0,423.2 188.8,423.2 C189.7,423.2 190.6,438.2 191.5,438.2 C192.4,438.2 193.4,400.0 194.3,400.0 C195.2,400.0 196.1,463.4 197.0,469.6 C197.9,475.8 198.8,483.8 199.7,484.6 C200.4,485.2 201.2,486.0 201.9,486.0 C202.8,486.0 203.7,461.9 204.6,458.7 C206.0,453.8 207.3,449.4 208.7,446.4 C209.8,444.0 210.9,436.8 212.0,436.8 C212.9,436.8 213.8,466.6 214.7,468.2 C215.6,469.8 216.5,471.8 217.4,471.8 C218.3,471.8 219.3,461.7 220.2,458.7 C221.1,455.8 222.0,448.3 222.9,448.3 C223.6,448.3 224.4,454.6 225.1,457.3 C225.8,460.0 226.6,470.9 227.3,470.9 C228.2,470.9 229.2,443.7 230.1,443.7 C230.9,443.7 231.8,462.8 232.6,462.8 C233.4,462.8 234.2,423.2 235.0,423.2 C235.9,423.2 236.8,442.1 237.7,442.3 C238.6,442.5 239.6,442.6 240.5,442.8 C241.4,443.0 242.3,486.5 243.2,486.5 C244.1,486.5 245.0,457.3 245.9,457.3 C246.6,457.3 247.4,461.9 248.1,462.8 C249.0,464.0 249.9,466.3 250.8,466.3 C251.4,466.3 252.1,459.3 252.7,455.9 C253.6,450.9 254.6,425.1 255.5,425.1 C256.4,425.1 257.3,471.5 258.2,471.8 C258.9,472.0 259.7,472.1 260.4,472.3 C261.3,472.6 262.2,476.4 263.1,476.4 C263.9,476.4 264.8,454.6 265.6,454.6 C266.5,454.6 267.4,490.0 268.3,490.0 C269.1,490.0 270.0,475.0 270.8,475.0 C271.7,475.0 272.6,486.4 273.5,488.1 C274.1,489.3 274.8,491.4 275.4,491.4 C276.3,491.4 277.2,434.6 278.1,431.4 C278.9,428.4 279.8,427.3 280.6,424.6 C281.5,421.7 282.4,394.5 283.3,394.5 C284.3,394.5 285.3,487.6 286.3,490.0 C287.2,492.2 288.1,493.8 289.0,494.7 C289.8,495.5 290.7,497.4 291.5,497.4 C292.2,497.4 293.0,496.3 293.7,495.5 C294.6,494.5 295.5,474.6 296.4,472.3 C297.1,470.4 297.9,469.0 298.6,467.4 C299.4,465.7 300.2,457.9 301.0,457.9 C302.0,457.9 303.0,490.9 304.0,490.9 C304.7,490.9 305.5,489.2 306.2,488.1 C307.3,486.5 308.4,473.6 309.5,471.8 C310.3,470.4 311.2,468.2 312.0,468.2 C312.9,468.2 313.8,476.9 314.7,476.9 C315.4,476.9 316.2,470.0 316.9,468.2 C317.6,466.5 318.3,462.2 319.0,462.2 C319.7,462.2 320.3,464.2 321.0,465.5 C322.2,467.8 323.3,493.6 324.5,493.6 C325.4,493.6 326.3,481.3 327.2,481.0 C328.0,480.8 328.9,480.8 329.7,480.5 C330.3,480.3 331.0,467.7 331.6,467.7 C332.4,467.7 333.3,489.6 334.1,492.8 C334.7,495.3 335.4,499.6 336.0,499.6 C336.9,499.6 337.8,499.6 338.7,499.6 C339.6,499.6 340.5,500.1 341.4,500.1 C342.3,500.1 343.2,499.6 344.1,499.6 C345.0,499.6 346.0,502.9 346.9,502.9 C348.1,502.9 349.2,499.6 350.4,499.6 C351.2,499.6 352.1,499.9 352.9,500.1 C353.8,500.3 354.7,501.8 355.6,501.8 C356.8,501.8 358.0,500.2 359.2,499.6 C360.3,499.0 361.3,498.3 362.4,496.9 C363.1,496.0 363.9,466.9 364.6,464.1 C365.5,460.6 366.4,455.9 367.3,455.9 C368.2,455.9 369.2,460.0 370.1,460.0 C371.0,460.0 371.9,442.3 372.8,442.3 C373.5,442.3 374.3,451.2 375.0,455.9 C375.9,461.6 376.8,494.1 377.7,494.1 C378.8,494.1 379.9,484.0 381.0,483.2 C381.7,482.7 382.5,481.9 383.2,481.9 C383.8,481.9 384.5,487.3 385.1,487.3 C386.0,487.3 386.9,487.3 387.8,487.3 C388.6,487.3 389.5,475.6 390.3,475.6 C391.3,475.6 392.3,490.7 393.3,491.4 C394.2,492.0 395.1,492.8 396.0,492.8 C396.7,492.8 397.5,488.7 398.2,488.7 C399.0,488.7 399.8,494.1 400.6,494.1 C401.3,494.1 402.1,494.1 402.8,494.1 C403.7,494.1 404.6,481.1 405.5,476.4 C406.4,471.6 407.4,455.9 408.3,455.9 C409.2,455.9 410.1,495.5 411.0,495.5 C411.9,495.5 412.7,472.4 413.6,472.4 C414.4,472.4 415.2,472.4 416.0,472.4 C416.8,472.4 417.6,465.4 418.4,465.0 C419.9,464.2 421.4,464.2 422.9,463.4 C423.9,462.9 424.9,444.5 425.9,444.5 C426.9,444.5 427.9,499.4 428.9,499.4 C429.6,499.4 430.3,495.1 431.0,494.9 C432.0,494.6 433.0,494.6 434.0,494.3 C435.7,493.8 437.4,470.9 439.1,467.9 C439.7,466.9 440.3,466.0 440.9,464.9 C441.8,463.2 442.7,450.5 443.6,450.5 C444.7,450.5 445.8,491.3 446.9,491.3 C447.6,491.3 448.3,482.9 449.0,482.9 C450.0,482.9 451.0,492.5 452.0,492.5 C452.8,492.5 453.6,470.9 454.4,470.9 C455.1,470.9 455.8,473.9 456.5,473.9 C457.3,473.9 458.1,464.3 458.9,464.3 C459.8,464.3 460.7,478.3 461.6,478.3 C462.6,478.3 463.6,444.5 464.6,444.5 C465.6,444.5 466.6,478.6 467.6,479.9 C468.9,481.6 470.2,482.8 471.5,483.5 C472.5,484.0 473.5,485.3 474.5,485.3 C475.3,485.3 476.1,484.4 476.9,484.4 C477.8,484.4 478.7,494.9 479.6,494.9 C480.4,494.9 481.2,494.6 482.0,494.3 C483.0,493.9 484.0,447.5 485.0,447.5 C485.8,447.5 486.6,460.4 487.4,460.4 C488.2,460.4 489.0,443.9 489.8,443.9 C490.5,443.9 491.2,449.9 491.9,449.9 C492.8,449.9 493.7,429.1 494.6,422.4 C495.5,415.7 496.4,396.0 497.3,396.0 C498.2,396.0 499.1,486.7 500.0,488.9 C501.0,491.4 502.0,493.6 503.0,494.0 C504.0,494.4 505.0,494.9 506.0,494.9 C507.0,494.9 508.0,493.4 509.0,493.4 C510.2,493.4 511.4,496.4 512.6,496.4 C513.4,496.4 514.2,432.3 515.0,430.5 C515.8,428.7 516.6,426.6 517.4,426.6 C518.6,426.6 519.8,446.9 521.0,446.9 C521.7,446.9 522.3,419.4 523.0,419.4 C523.8,419.4 524.6,491.9 525.4,491.9 C526.4,491.9 527.4,399.7 528.4,388.5 C529.7,373.9 531.0,352.5 532.3,352.5 C532.8,352.5 533.3,358.5 533.8,363.0 C534.5,369.3 535.2,473.6 535.9,481.4 C536.6,489.2 537.3,499.4 538.0,499.4 C539.3,499.4 540.6,487.2 541.9,485.9 C543.1,484.7 544.3,484.3 545.5,482.9 C546.5,481.7 547.5,443.9 548.5,443.9 C549.5,443.9 550.5,464.5 551.5,470.9 C552.5,477.3 553.5,495.5 554.5,495.5 C556.0,495.5 557.5,449.9 559.0,449.9 C559.8,449.9 560.6,450.2 561.4,450.5 C562.2,450.8 563.0,458.3 563.8,458.3 C564.5,458.3 565.2,446.9 565.9,446.9 C566.7,446.9 567.5,446.9 568.3,446.9 C569.3,446.9 570.3,490.4 571.3,490.4 C572.0,490.4 572.7,488.3 573.4,488.3 C574.4,488.3 575.4,497.9 576.4,497.9 C577.4,497.9 578.4,451.0 579.4,449.9 C580.7,448.4 582.0,448.3 583.3,446.9 C584.3,445.8 585.3,426.0 586.3,426.0 C587.3,426.0 588.3,497.9 589.3,497.9 C590.2,497.9 591.1,442.5 592.0,440.9 C592.8,439.5 593.6,437.9 594.4,437.9 C595.1,437.9 595.8,442.4 596.5,442.4 C597.3,442.4 598.1,411.0 598.9,409.5 C599.6,408.2 600.3,406.5 601.0,406.5 C601.6,406.5 602.2,448.4 602.8,458.9 C603.5,471.1 604.2,499.4 604.9,499.4 C606.1,499.4 607.2,498.7 608.4,498.5 C609.4,498.3 610.4,498.2 611.4,497.9 C612.6,497.6 613.8,477.4 615.0,470.9 C616.0,465.5 617.0,452.3 618.0,449.9 C618.7,448.2 619.4,445.4 620.1,445.4 C620.9,445.4 621.7,455.7 622.5,460.4 C623.5,466.2 624.5,489.8 625.5,491.9 C626.2,493.4 626.9,495.5 627.6,495.5 C628.6,495.5 629.6,488.9 630.6,488.9 C631.6,488.9 632.6,490.1 633.6,490.4 C634.4,490.7 635.2,491.3 636.0,491.3 C637.3,491.3 638.6,469.4 639.9,469.4 C640.9,469.4 641.9,491.3 642.9,491.3 C643.8,491.3 644.7,490.4 645.6,490.4 C646.9,490.4 648.2,497.9 649.5,497.9 C650.2,497.9 650.9,466.3 651.6,458.9 C652.4,450.5 653.2,436.3 654.0,432.0 C655.3,425.0 656.6,419.0 657.9,412.5 C658.9,407.5 659.9,384.8 660.9,384.0 C661.8,383.3 662.7,382.5 663.6,382.5 C664.4,382.5 665.2,402.4 666.0,414.0 C666.8,425.6 667.6,500.9 668.4,500.9 C669.1,500.9 669.8,416.5 670.5,405.0 C671.0,396.8 671.5,385.0 672.0,382.5 C672.6,379.5 673.2,377.4 673.8,375.0 C674.4,372.6 675.0,361.5 675.6,361.5 C676.1,361.5 676.6,371.1 677.1,378.0 C677.7,386.3 678.3,496.4 678.9,496.4 C679.6,496.4 680.3,487.9 681.0,487.4 C682.0,486.7 683.0,486.5 684.0,485.9 C684.8,485.4 685.6,481.4 686.4,481.4 C687.1,481.4 687.8,485.9 688.5,485.9 C689.3,485.9 690.1,481.4 690.9,481.4 C691.8,481.4 692.7,494.3 693.6,494.3 C694.4,494.3 695.2,476.3 696.0,476.3 C696.8,476.3 697.6,478.4 698.4,478.4 C699.3,478.4 700.2,475.4 701.1,475.4 C702.1,475.4 703.1,499.4 704.1,499.4 C704.9,499.4 705.7,465.6 706.5,464.9 C707.3,464.2 708.1,464.1 708.9,463.4 C709.7,462.7 710.5,449.3 711.3,449.3 C712.2,449.3 713.1,486.3 714.0,488.9 C714.8,491.2 715.6,494.3 716.4,494.3 C717.4,494.3 718.4,458.9 719.4,458.9 C720.2,458.9 721.0,470.9 721.8,470.9 C722.7,470.9 723.6,468.3 724.5,466.4 C725.3,464.7 726.1,453.2 726.9,446.9 C727.7,440.6 728.5,411.0 729.3,411.0 C730.0,411.0 730.7,437.6 731.4,449.9 C731.9,458.7 732.4,496.4 732.9,496.4 C734.1,496.4 735.3,496.4 736.5,496.4 C737.5,496.4 738.5,497.3 739.5,497.3 C740.3,497.3 741.1,496.8 741.9,496.4 C742.8,495.9 743.7,434.9 744.6,434.9 C745.4,434.9 746.2,458.9 747.0,458.9 C747.7,458.9 748.4,440.2 749.1,437.9 C749.9,435.3 750.7,431.3 751.5,431.3 C752.0,431.3 752.5,432.6 753.0,433.4 C753.8,434.7 754.6,451.4 755.4,451.4 C756.0,451.4 756.6,440.9 757.2,440.9 C758.1,440.9 759.0,493.4 759.9,493.4 C760.6,493.4 761.3,442.5 762.0,428.9 C762.9,411.4 763.8,369.0 764.7,369.0 C765.3,369.0 765.9,392.7 766.5,405.0 C767.2,419.3 767.9,497.9 768.6,497.9 C769.2,497.9 769.8,496.4 770.4,496.4 C771.1,496.4 771.8,498.5 772.5,498.5 C773.3,498.5 774.1,455.1 774.9,454.4 C775.8,453.7 776.7,452.9 777.6,452.9 C778.4,452.9 779.2,456.0 780.0,457.4 C781.0,459.2 782.0,467.9 783.0,467.9 C783.8,467.9 784.6,457.4 785.4,457.4 C786.3,457.4 787.2,469.4 788.1,469.4 C789.1,469.4 790.1,437.3 791.1,436.4 C791.9,435.7 792.7,434.9 793.5,434.9 C794.3,434.9 795.1,459.6 795.9,460.4 C796.6,461.1 797.3,461.9 798.0,461.9 C798.8,461.9 799.6,460.0 800.4,458.7 C801.2,457.4 802.0,442.3 802.8,442.3 C803.5,442.3 804.3,463.5 805.0,469.6 C805.9,477.1 806.8,494.9 807.7,496.9 C808.6,499.0 809.6,501.8 810.5,501.8 C811.7,501.8 812.8,497.2 814.0,496.3 C814.9,495.6 815.8,494.1 816.7,494.1 C817.6,494.1 818.6,495.5 819.5,495.5 C820.6,495.5 821.6,491.2 822.7,490.0 C823.6,489.0 824.6,486.5 825.5,486.5 C826.4,486.5 827.3,492.8 828.2,492.8 C828.9,492.8 829.7,488.1 830.4,488.1 C831.3,488.1 832.2,494.1 833.1,494.1 C834.2,494.1 835.3,490.8 836.4,490.0 C837.5,489.2 838.6,487.3 839.7,487.3 C840.6,487.3 841.5,492.4 842.4,492.8 C843.6,493.4 844.7,494.1 845.9,494.1 C846.8,494.1 847.6,492.1 848.5,491.0 C849.5,489.8 850.4,483.2 851.4,483.2 C852.3,483.2 853.1,493.1 854.0,494.0 C855.3,495.3 856.7,497.0 858.0,497.0 C859.3,497.0 860.7,495.0 862.0,495.0 C863.3,495.0 864.7,498.0 866.0,498.0 C867.3,498.0 868.7,496.0 870.0,496.0 C871.3,496.0 872.7,497.0 874.0,497.0 C875.1,497.0 876.2,495.5 877.3,494.1 C877.9,493.3 878.6,478.8 879.2,477.8 C880.4,475.8 881.6,474.2 882.8,473.7 C884.2,473.2 885.5,473.0 886.9,472.3 C887.8,471.8 888.7,455.4 889.6,455.4 C890.5,455.4 891.4,489.0 892.3,491.4 C893.2,493.8 894.1,496.9 895.0,496.9 C896.4,496.9 897.7,496.5 899.1,496.3 C900.5,496.1 901.8,495.0 903.2,494.1 C904.1,493.5 905.1,491.2 906.0,488.7 C906.6,487.0 907.3,460.9 907.9,460.9 C908.6,460.9 909.3,488.9 910.0,490.0 C911.4,492.1 912.7,493.3 914.1,494.1 C915.5,494.9 916.8,496.3 918.2,496.9 C919.6,497.5 920.9,499.0 922.3,499.0 C923.7,499.0 925.0,495.0 926.4,494.1 C927.7,493.2 929.0,493.0 930.3,491.4 C930.7,490.9 931.1,459.7 931.5,440.0 C931.7,431.8 931.8,397.5 932.0,385.0 C932.2,370.0 932.4,337.4 932.6,330.0 C933.0,313.9 933.5,289.5 933.9,289.5 C934.4,289.5 935.0,296.7 935.5,300.0 C936.0,303.1 936.5,313.2 937.0,317.0 C937.7,322.3 938.4,336.0 939.1,336.0 C939.6,336.0 940.1,333.0 940.6,333.0 C941.1,333.0 941.5,354.2 942.0,363.0 C942.3,369.3 942.7,384.2 943.0,393.0 C943.2,398.3 943.4,418.0 943.6,418.0 C943.8,418.0 944.1,392.9 944.3,380.0 C944.5,367.1 944.8,311.5 945.0,300.0 C945.5,277.0 945.9,240.0 946.4,240.0 C946.8,240.0 947.1,253.3 947.5,258.0 C948.0,264.4 948.5,280.3 949.0,285.0 C949.3,288.2 949.7,295.0 950.0,295.0 C950.5,295.0 951.0,285.0 951.5,280.0 C952.2,272.6 953.0,231.6 953.7,231.6 C954.1,231.6 954.6,240.9 955.0,245.0 C955.5,249.7 956.0,269.0 956.5,269.0 C957.0,269.0 957.5,236.2 958.0,225.0 C958.4,215.3 958.9,185.5 959.3,185.5 C959.7,185.5 960.1,204.9 960.5,215.0 C960.8,222.5 961.1,244.1 961.4,260.0 C961.6,272.4 961.9,322.6 962.1,340.0 C962.3,354.9 962.5,376.0 962.7,393.0 C962.9,407.1 963.0,458.0 963.2,470.0 C963.4,482.0 963.5,503.6 963.7,505.0 C964.2,509.3 964.7,512.8 965.2,513.0 C966.3,513.5 967.4,513.8 968.5,514.0" fill="none" stroke="#cc3b20" stroke-opacity="0.93" stroke-width="2.1" stroke-linejoin="round" stroke-linecap="butt"/>
<path d="M540.5,262 V250.5" stroke="#a9b46e" stroke-opacity="0.5" stroke-width="1"/><rect x="540.5" y="231.5" width="20" height="19" fill="#fffffa" stroke="#a9b46e" stroke-width="1"/><text x="550.1" y="244.6" text-anchor="middle" font-size="10" font-weight="bold" fill="#111">C</text><path d="M680.5,232 V219.5" stroke="#a9b46e" stroke-opacity="0.5" stroke-width="1"/><rect x="680.5" y="200.5" width="20.5" height="19" fill="#fffffa" stroke="#a9b46e" stroke-width="1"/><text x="690.35" y="213.6" text-anchor="middle" font-size="10" font-weight="bold" fill="#111">D</text>
<path d="M46.4,519.8 V529.3" stroke="#ccd6eb" stroke-width="1"/><text x="39.4" y="539" font-size="11" fill="#666">Sep '17</text><path d="M122.2,519.8 V529.3" stroke="#ccd6eb" stroke-width="1"/><text x="123.2" y="539" text-anchor="middle" font-size="11" fill="#666">Oct '17</text><path d="M201.3,519.8 V529.3" stroke="#ccd6eb" stroke-width="1"/><text x="202.3" y="539" text-anchor="middle" font-size="11" fill="#666">Nov '17</text><path d="M278.3,519.8 V529.3" stroke="#ccd6eb" stroke-width="1"/><text x="279.3" y="539" text-anchor="middle" font-size="11" fill="#666">Dec '17</text><path d="M356.4,519.8 V529.3" stroke="#ccd6eb" stroke-width="1"/><text x="357.4" y="539" text-anchor="middle" font-size="11" fill="#666">Jan '18</text><path d="M435.2,519.8 V529.3" stroke="#ccd6eb" stroke-width="1"/><text x="436.2" y="539" text-anchor="middle" font-size="11" fill="#666">Feb '18</text><path d="M507.2,519.8 V529.3" stroke="#ccd6eb" stroke-width="1"/><text x="508.2" y="539" text-anchor="middle" font-size="11" fill="#666">Mar '18</text><path d="M586.4,519.8 V529.3" stroke="#ccd6eb" stroke-width="1"/><text x="587.4" y="539" text-anchor="middle" font-size="11" fill="#666">Apr '18</text><path d="M662.3,519.8 V529.3" stroke="#ccd6eb" stroke-width="1"/><text x="663.3" y="539" text-anchor="middle" font-size="11" fill="#666">May '18</text><path d="M741.3,519.8 V529.3" stroke="#ccd6eb" stroke-width="1"/><text x="742.3" y="539" text-anchor="middle" font-size="11" fill="#666">Jun '18</text><path d="M817.6,519.8 V529.3" stroke="#ccd6eb" stroke-width="1"/><text x="818.6" y="539" text-anchor="middle" font-size="11" fill="#666">Jul '18</text><path d="M896.5,519.8 V529.3" stroke="#ccd6eb" stroke-width="1"/><text x="897.5" y="539" text-anchor="middle" font-size="11" fill="#666">Aug '18</text>
<defs>
<linearGradient id="gb" x1="0" y1="60" x2="0" y2="400" gradientUnits="userSpaceOnUse"><stop offset="0" stop-color="#c4ecfc"/><stop offset="0.45" stop-color="#6cc9f2"/><stop offset="1" stop-color="#1f9ad9"/></linearGradient>
<linearGradient id="gk" x1="0" y1="40" x2="0" y2="230" gradientUnits="userSpaceOnUse"><stop offset="0" stop-color="#8a8f94"/><stop offset="0.55" stop-color="#2a2c2e"/><stop offset="1" stop-color="#000"/></linearGradient>
<linearGradient id="gy" x1="0" y1="90" x2="0" y2="340" gradientUnits="userSpaceOnUse"><stop offset="0" stop-color="#a6e2fa"/><stop offset="1" stop-color="#2797d6"/></linearGradient>
<linearGradient id="gb2" x1="0" y1="70" x2="0" y2="490" gradientUnits="userSpaceOnUse"><stop offset="0" stop-color="#d2f1fd"/><stop offset="0.4" stop-color="#7fd0f4"/><stop offset="1" stop-color="#1c9bdc"/></linearGradient>
<linearGradient id="gk2" x1="180" y1="50" x2="130" y2="250" gradientUnits="userSpaceOnUse"><stop offset="0" stop-color="#9a9fa4"/><stop offset="0.5" stop-color="#3a3d40"/><stop offset="0.85" stop-color="#050506"/></linearGradient>
<g id="xiaoshape">
  <path d="M165,125 L245,75 C300,130 345,230 350,330 C352,400 340,450 300,480 C260,500 200,495 180,480 L150,400 C180,410 225,410 240,395 C255,330 240,240 165,125 Z"/>
  <path d="M85,195 L170,205 L140,390 L50,370 Z"/>
  <path d="M370,160 L490,280 L425,330 L330,215 Z"/>
</g>
<path id="heibox" d="M150,62 C170,50 200,55 230,70 L410,140 C445,155 462,185 455,215 L440,275 C430,300 410,305 385,298 L120,222 C100,215 100,195 105,175 L125,95 C130,75 140,68 150,62 Z"/>
<path id="heilow" d="M125,265 L385,330 M58,322 L375,405 M262,240 L228,372 M66,372 L84,394 M150,396 L164,422 M236,424 L250,452 M318,446 L328,478"/>
</defs>
<!-- panda -->
<g transform="translate(810,470) scale(0.14539)" stroke-linejoin="round" stroke-linecap="round">
 <g stroke="#fff" stroke-width="14" fill="#fff">
  <path d="M95,215 C120,180 200,168 245,180 C238,260 215,330 195,400 C188,440 200,480 205,500 C170,528 110,528 92,500 C100,470 80,420 68,380 C58,340 92,340 85,300 C75,260 80,235 95,215 Z"/>
  <path d="M472,300 C505,310 528,335 522,385 C520,430 502,470 484,492 C440,505 430,480 470,380 Z"/>
  <circle cx="272" cy="150" r="38"/><circle cx="432" cy="125" r="36"/>
 </g>
 <path d="M95,215 C120,180 200,168 245,180 C238,260 215,330 195,400 C188,440 200,480 205,500 C170,528 110,528 92,500 C100,470 80,420 68,380 C58,340 92,340 85,300 C75,260 80,235 95,215 Z" fill="#0d0d0f"/>
 <path d="M472,300 C505,310 528,335 522,385 C520,430 502,470 484,492 C470,500 430,500 425,490 C440,470 470,440 470,380 Z" fill="#0d0d0f"/>
 <ellipse cx="145" cy="494" rx="50" ry="26" fill="#0d0d0f"/>
 <path d="M88,398 L106,386 L122,402 L146,380 L166,396" fill="none" stroke="#9a9a9a" stroke-width="5"/>
 <circle cx="272" cy="150" r="36" fill="#0d0d0f"/>
 <circle cx="432" cy="125" r="34" fill="#0d0d0f"/>
 <path d="M262,140 q12,-12 26,-2" fill="none" stroke="#7a4a2a" stroke-width="5"/>
 <!-- shorts -->
 <path d="M192,430 C230,485 420,492 474,432 C478,485 440,522 332,524 C232,522 196,490 192,430 Z" fill="#eaa63c" stroke="#b27a22" stroke-width="4"/>
 <!-- body -->
 <ellipse cx="332" cy="392" rx="150" ry="104" fill="#fdfdff" stroke="#b9c0cc" stroke-width="3"/>
 <!-- hair -->
 <path d="M335,118 L340,88 L352,108 L362,82 L372,106 L388,90 L386,120 Z" fill="#fff" stroke="#c8ccd4" stroke-width="3"/>
 <!-- head -->
 <path d="M240,235 C235,160 290,105 365,104 C440,104 492,160 492,235 C492,300 440,330 365,330 C290,330 245,300 240,235 Z" fill="#fdfdff" stroke="#b9c0cc" stroke-width="3"/>
 <path d="M255,195 q20,-12 40,-2 M300,185 q40,12 70,-6 q30,14 60,-4" fill="none" stroke="#f3c9c4" stroke-width="5"/>
 <ellipse cx="268" cy="205" rx="20" ry="12" fill="#f7d9d4"/>
 <!-- eyes -->
 <path d="M360,262 C355,235 385,220 410,230 C432,238 428,268 405,280 C385,290 364,284 360,262 Z" fill="#0d0d0f"/>
 <circle cx="406" cy="252" r="14" fill="#fff"/><circle cx="400" cy="254" r="8" fill="#0d0d0f"/>
 <path d="M452,232 C462,222 488,228 488,242 C486,254 462,256 454,248 Z" fill="#0d0d0f"/>
 <ellipse cx="456" cy="276" rx="15" ry="10" fill="#0d0d0f"/>
 <path d="M456,286 L458,300" stroke="#555" stroke-width="4" fill="none"/>
 <ellipse cx="376" cy="306" rx="22" ry="11" fill="#f4b4b4"/>
 <path d="M292,292 C320,332 400,338 452,316" fill="none" stroke="#9aa0aa" stroke-width="4"/>
</g>
<!-- xiao -->
<g transform="translate(885,485) scale(0.0909)" stroke-linejoin="round" stroke-linecap="round">
 <use href="#xiaoshape" fill="#fff" stroke="#fff" stroke-width="46" opacity="0.7"/>
 <use href="#xiaoshape" fill="#174a74" stroke="#174a74" stroke-width="28"/>
 <use href="#xiaoshape" fill="url(#gb2)" stroke="none"/>
 <path d="M190,130 C250,200 275,300 268,380" fill="none" stroke="#e9f8ff" stroke-width="12" opacity="0.55"/>
 <path d="M95,215 L75,350" fill="none" stroke="#e9f8ff" stroke-width="10" opacity="0.5"/>
</g>
<!-- hei -->
<g transform="translate(922,483) scale(0.1)" stroke-linejoin="round" stroke-linecap="round" fill="none">
 <g stroke="#fff" opacity="0.75">
  <use href="#heibox" fill="#fff" stroke-width="46"/>
  <use href="#heilow" stroke-width="86"/>
 </g>
 <g stroke="#234a62">
  <use href="#heibox" fill="#234a62" stroke-width="26"/>
  <use href="#heilow" stroke-width="68"/>
 </g>
 <use href="#heilow" stroke="#08080a" stroke-width="42"/>
 <use href="#heibox" fill="url(#gk2)" stroke="none"/>
 <g stroke="#c9d2d9" stroke-width="8">
  <path d="M150,240 L222,262 M272,292 L362,318 M118,306 L215,332 M262,345 L350,369"/>
 </g>
 <g stroke="#f2f5f7" stroke-width="8">
  <path d="M198,184 L226,196 L246,150 L234,144"/>
  <path d="M300,236 L346,246 M330,206 L372,200 C392,205 390,238 362,246"/>
 </g>
 <circle cx="190" cy="105" r="11" fill="#fff"/>
</g>
<!-- you xi -->
<g transform="translate(955,505) scale(0.0819)" stroke-linejoin="round" stroke-linecap="round" fill="none">
 <g stroke="#17344f" stroke-width="64">
  <path d="M160,120 L180,140 M150,190 L172,210 M150,320 L185,250 M215,150 L300,150 M255,105 L255,150 M235,200 L290,200 L280,310 L255,320 M235,200 L215,320 M320,110 L300,170 M320,150 L375,150 M318,215 L368,215 L340,245 M300,265 L378,265 M342,250 L342,320 L320,325"/>
  <path d="M420,140 L500,140 C495,200 470,270 420,320 M430,190 C450,230 480,280 510,320 M520,190 L650,175 M560,110 C570,200 600,280 650,318 M640,220 C610,270 570,300 530,322 M610,110 L640,140"/>
 </g>
 <g stroke="url(#gy)" stroke-width="34">
  <path d="M160,120 L180,140 M150,190 L172,210 M150,320 L185,250 M215,150 L300,150 M255,105 L255,150 M235,200 L290,200 L280,310 L255,320 M235,200 L215,320 M320,110 L300,170 M320,150 L375,150 M318,215 L368,215 L340,245 M300,265 L378,265 M342,250 L342,320 L320,325"/>
  <path d="M420,140 L500,140 C495,200 470,270 420,320 M430,190 C450,230 480,280 510,320 M520,190 L650,175 M560,110 C570,200 600,280 650,318 M640,220 C610,270 570,300 530,322 M610,110 L640,140"/>
 </g>
</g>
<!-- url -->
<text x="888.5" y="545.5" font-size="13.5" font-weight="bold" fill="#fff" stroke="#5eb4e4" stroke-width="2.2" stroke-linejoin="round" paint-order="stroke fill" textLength="118" lengthAdjust="spacingAndGlyphs" style="font-family:'Liberation Sans',sans-serif">www.xiaohei.com</text>

</svg>
</body></html>
